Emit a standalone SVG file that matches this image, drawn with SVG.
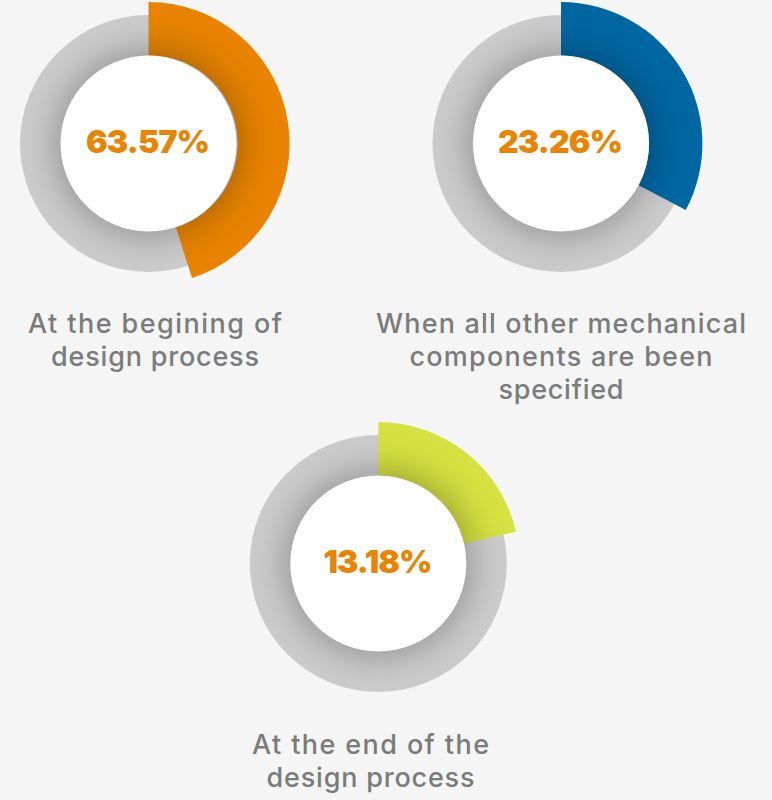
<svg xmlns="http://www.w3.org/2000/svg" width="772" height="800" viewBox="0 0 772 800">
<style>
.ring{fill:url(#gGray)}
.hole{fill:#fff}
.pct{font-family:Inter,"Liberation Sans",sans-serif;font-weight:900;font-size:32px;fill:#e98300;text-anchor:middle}
.lbl{font-family:Inter,"Liberation Sans",sans-serif;font-weight:500;font-size:27px;fill:#7a7c7c;text-anchor:middle}
</style>
<defs>
<radialGradient id="gGray" gradientUnits="objectBoundingBox" cx="0.5" cy="0.5" r="0.5"><stop offset="0.685" stop-color="#ababab"/><stop offset="0.75" stop-color="#b5b5b5"/><stop offset="0.82" stop-color="#c0c0c0"/><stop offset="0.9" stop-color="#c7c7c7"/><stop offset="1" stop-color="#cbcbcb"/></radialGradient>
<radialGradient id="gOrange" gradientUnits="userSpaceOnUse" cx="148.5" cy="143.5" r="141.5"><stop offset="0.62" stop-color="#c27000"/><stop offset="0.7" stop-color="#d27800"/><stop offset="0.78" stop-color="#df7e00"/><stop offset="0.87" stop-color="#e78200"/><stop offset="1" stop-color="#e98300"/></radialGradient>
<radialGradient id="gBlue" gradientUnits="userSpaceOnUse" cx="561" cy="143.5" r="141.5"><stop offset="0.62" stop-color="#005688"/><stop offset="0.7" stop-color="#005e94"/><stop offset="0.78" stop-color="#00639d"/><stop offset="0.87" stop-color="#0066a1"/><stop offset="1" stop-color="#0067a3"/></radialGradient>
<radialGradient id="gGreen" gradientUnits="userSpaceOnUse" cx="378.3" cy="563.5" r="141.5"><stop offset="0.62" stop-color="#afb936"/><stop offset="0.7" stop-color="#c0cb3a"/><stop offset="0.78" stop-color="#ccd83e"/><stop offset="0.87" stop-color="#d4e040"/><stop offset="1" stop-color="#d6e241"/></radialGradient>
</defs>
<rect width="772" height="800" fill="#f5f5f5"/>
<g id="chart-1">
<circle class="ring" cx="148.5" cy="143.5" r="128.5"/>
<path fill="url(#gOrange)" d="M148.5 2A141.5 141.5 0 0 1 192 278L176 227.5A88 88 0 0 0 148.5 55.5Z"/>
<circle class="hole" cx="148.5" cy="143.5" r="88"/>
<text class="pct" x="148" y="153" textLength="124">63.57%</text>
<text class="lbl" x="155" y="333" textLength="254">At the begining of</text>
<text class="lbl" x="155" y="366" textLength="208">design process</text>
</g>
<g id="chart-2">
<circle class="ring" cx="561" cy="143.5" r="128.5"/>
<path fill="url(#gBlue)" d="M561 2A141.5 141.5 0 0 1 685.8 210L638.6 185.2A88 88 0 0 0 561 55.5Z"/>
<circle class="hole" cx="561" cy="143.5" r="88"/>
<text class="pct" x="560.5" y="153" textLength="125">23.26%</text>
<text class="lbl" x="561" y="333" textLength="370">When all other mechanical</text>
<text class="lbl" x="561" y="366" textLength="303">components are been</text>
<text class="lbl" x="561" y="399" textLength="125">specified</text>
</g>
<g id="chart-3">
<circle class="ring" cx="378.3" cy="563.5" r="128.5"/>
<path fill="url(#gGreen)" d="M378.3 422A141.5 141.5 0 0 1 516 531.7L464 543.7A88 88 0 0 0 378.3 475.5Z"/>
<circle class="hole" cx="378.3" cy="563.5" r="88"/>
<text class="pct" x="378" y="573" textLength="109">13.18%</text>
<text class="lbl" x="370.5" y="754" textLength="237">At the end of the</text>
<text class="lbl" x="370.5" y="787" textLength="208">design process</text>
</g>
</svg>
